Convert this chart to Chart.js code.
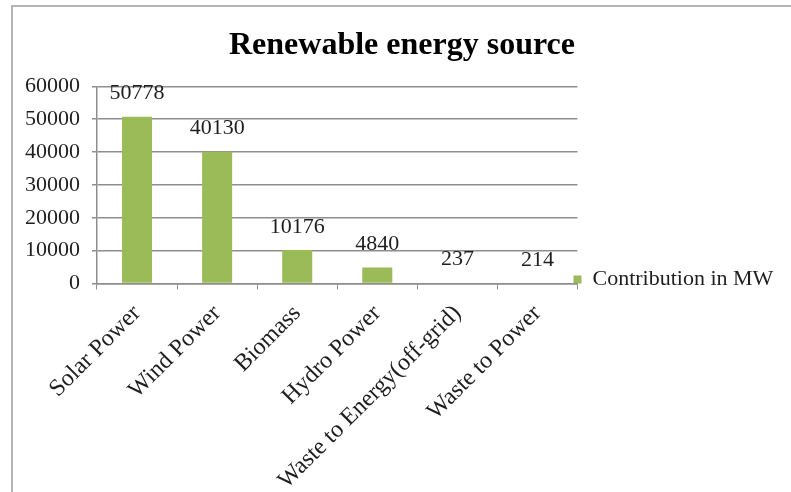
<!DOCTYPE html>
<html>
<head>
<meta charset="utf-8">
<title>Renewable energy source</title>
<script src="https://cdn.jsdelivr.net/npm/chart.js@4/dist/chart.umd.min.js"></script>
<style>
  body { margin: 0; background: #fff; }
  #wrap { position: relative; width: 791px; height: 492px; overflow: hidden; }
  #frame {
    position: absolute; left: 11px; top: 5px; right: 0; bottom: 0;
    border-top: 2px solid #b4b4b4; border-left: 2px solid #b4b4b4;
    pointer-events: none;
  }
</style>
</head>
<body>
<div id="wrap">
  <canvas id="chart" width="791" height="492"></canvas>
  <div id="frame"></div>
</div>
<script>
const sources = ['Solar Power', 'Wind Power', 'Biomass', 'Hydro Power', 'Waste to Energy(off-grid)', 'Waste to Power'];
const contribution = [50778, 40130, 10176, 4840, 237, 214];
const yTicks = [0, 10000, 20000, 30000, 40000, 50000, 60000];

const serif = "'Liberation Serif', 'Times New Roman', serif";

// values above each bar
const valueLabels = {
    id: 'valueLabels',
    afterDatasetsDraw(chart) {
        const ctx = chart.ctx;
        const meta = chart.getDatasetMeta(0);
        ctx.save();
        ctx.font = '22px ' + serif;
        ctx.fillStyle = '#1e1e1e';
        ctx.textAlign = 'center';
        ctx.textBaseline = 'middle';
        meta.data.forEach((bar, i) => {
            ctx.fillText(String(contribution[i]), bar.x, bar.y - 23);
        });
        ctx.restore();
    }
};

// legend box is clipped a bit too tight, and sits low next to the x axis
const legendFix = {
    id: 'legendFix',
    afterInit(chart) {
        const legend = chart.legend;
        const origFit = legend.fit;
        legend.fit = function () {
            origFit.call(this);
            this.width += 19;
        };
    },
    afterLayout(chart) {
        const lg = chart.legend;
        lg.top += 9;
        lg.bottom += 9;
        lg.left -= 6;
        lg.right -= 6;
    }
};

const ctx = document.getElementById('chart').getContext('2d');
new Chart(ctx, {
    type: 'bar',
    data: {
        labels: sources,
        datasets: [{
            label: 'Contribution in MW',
            data: contribution,
            backgroundColor: '#9bbb59',
            borderWidth: 0,
            categoryPercentage: 1,
            barPercentage: 0.375
        }]
    },
    options: {
        responsive: false,
        animation: false,
        layout: { padding: { left: 13, right: 0, top: 27, bottom: -13 } },
        plugins: {
            title: {
                display: true,
                text: 'Renewable energy source',
                color: '#000',
                font: { family: serif, size: 32, weight: 'bold' },
                padding: { top: 0, bottom: 21 }
            },
            legend: {
                position: 'right',
                align: 'end',
                fullSize: false,
                labels: {
                    color: '#1e1e1e',
                    font: { family: serif, size: 22 },
                    boxWidth: 8,
                    boxHeight: 8,
                    padding: 2
                }
            },
            tooltip: { enabled: false }
        },
        scales: {
            x: {
                grid: {
                    drawOnChartArea: false,
                    drawTicks: true,
                    tickLength: 6,
                    color: '#8e8e8e',
                    offset: true
                },
                border: { color: '#8e8e8e', width: 1.5 },
                ticks: {
                    autoSkip: false,
                    maxRotation: 45,
                    minRotation: 45,
                    color: '#1e1e1e',
                    font: { family: serif, size: 24 },
                    padding: 10
                }
            },
            y: {
                min: 0,
                max: 60000,
                afterBuildTicks(axis) {
                    axis.ticks = yTicks.map(v => ({ value: v }));
                },
                grid: { color: '#8e8e8e', lineWidth: 1.5, tickLength: 5 },
                border: { color: '#8e8e8e', width: 1.5 },
                ticks: {
                    color: '#1e1e1e',
                    font: { family: serif, size: 22 },
                    padding: 12,
                    callback: v => String(v)
                }
            }
        }
    },
    plugins: [valueLabels, legendFix]
});
</script>
</body>
</html>
